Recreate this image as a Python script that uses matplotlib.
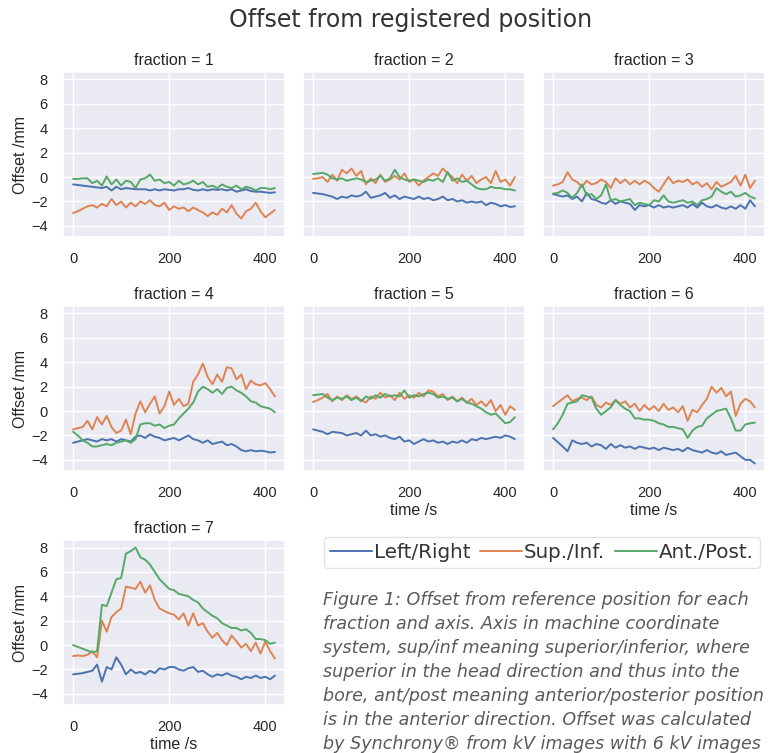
import numpy as np
import matplotlib
matplotlib.use("Agg")
import matplotlib.pyplot as plt
import seaborn as sns

# time axis (s), shared by all fractions
time_s = [0, 10, 20, 30, 40, 50, 60, 70, 80, 90, 100, 110, 120, 130, 140, 150, 160, 170, 180, 190, 200,
          210, 220, 230, 240, 250, 260, 270, 280, 290, 300, 310, 320, 330, 340, 350, 360, 370, 380, 390, 400, 410, 420]

series_names = ["Left/Right", "Sup./Inf.", "Ant./Post."]

# fraction 1
f1_lr = [-0.6, -0.65, -0.7, -0.75, -0.8, -0.85, -0.9, -0.8, -1.1, -0.8, -1.0, -0.9, -0.95, -1.0, -1.0, -1.0, -1.1, -1.0, -1.1, -1.0, -1.05,
         -1.1, -1.0, -1.0, -0.9, -1.05, -1.1, -1.0, -1.1, -1.0, -1.05, -1.0, -1.1, -1.0, -1.2, -1.1, -1.0, -1.15, -1.2, -1.2, -1.25, -1.3, -1.25]
f1_si = [-2.95, -2.8, -2.6, -2.4, -2.3, -2.5, -2.2, -2.4, -1.8, -2.3, -2.0, -2.5, -2.1, -2.4, -2.0, -2.2, -1.9, -2.3, -2.4, -2.1, -2.7,
         -2.4, -2.6, -2.5, -2.8, -2.5, -2.7, -2.9, -3.2, -2.9, -3.1, -2.6, -2.9, -2.3, -3.0, -3.4, -2.8, -2.6, -2.1, -2.8, -3.3, -3.0, -2.7]
f1_ap = [-0.15, -0.15, -0.1, -0.1, -0.5, -0.3, -0.7, 0.05, -0.6, -0.2, -0.7, -0.3, -0.4, -0.9, -0.2, -0.1, 0.2, -0.3, -0.2, -0.5, -0.4,
         -0.7, -0.3, -0.6, -0.5, -0.3, -0.6, -0.4, -0.8, -0.7, -0.9, -0.6, -0.8, -0.9, -0.7, -1.0, -0.8, -0.9, -1.1, -0.9, -0.9, -1.0, -0.9]

# fraction 2
f2_lr = [-1.3, -1.35, -1.4, -1.5, -1.6, -1.8, -1.6, -1.7, -1.5, -1.6, -1.5, -1.2, -1.7, -1.6, -1.5, -1.3, -1.7, -1.5, -1.8, -1.6, -1.7,
         -1.8, -1.6, -1.8, -1.7, -1.9, -1.8, -1.6, -1.9, -1.8, -2.0, -1.9, -2.1, -2.0, -2.1, -2.0, -2.3, -2.1, -2.2, -2.4, -2.3, -2.45, -2.4]
f2_si = [-0.15, -0.1, 0.0, -0.4, 0.2, -0.3, 0.6, 0.3, 0.7, 0.1, 0.5, -0.6, -0.1, -0.5, 0.2, -0.4, -0.2, 0.1, -0.2, 0.3, -0.4,
         -0.2, -0.7, -0.3, 0.0, 0.3, 0.1, 0.7, 0.3, 0.0, -0.5, 0.2, -0.3, 0.1, -0.5, -0.2, 0.0, -0.5, 0.5, -0.4, -0.2, -0.7, 0.0]
f2_ap = [0.25, 0.3, 0.35, 0.2, -0.1, -0.2, -0.1, -0.3, -0.2, -0.1, -0.2, -0.4, -0.3, -0.2, 0.1, -0.3, -0.1, 0.6, 0.0, -0.2, -0.3,
         -0.2, -0.3, -0.4, -0.2, -0.3, -0.1, -0.4, 0.4, -0.3, -0.1, -0.4, -0.3, -0.6, -0.9, -1.0, -1.0, -0.8, -0.9, -0.9, -1.0, -1.0, -1.1]

# fraction 3
f3_lr = [-1.4, -1.5, -1.6, -1.5, -1.8, -1.6, -2.0, -1.3, -1.8, -1.9, -2.1, -2.2, -1.9, -2.2, -2.0, -2.1, -2.2, -2.7, -2.3, -2.4, -2.3,
         -2.5, -2.3, -2.5, -2.4, -2.5, -2.4, -2.3, -2.5, -2.2, -2.5, -2.1, -2.4, -2.5, -2.3, -2.5, -2.6, -2.4, -2.6, -2.3, -2.6, -1.9, -2.4]
f3_si = [-0.7, -0.6, -0.4, 0.4, -0.2, -0.4, -0.8, -0.3, -0.6, -0.5, -0.2, -0.4, -0.9, -0.1, -0.5, -0.2, -0.6, -0.3, -0.6, -0.3, -0.5,
         -0.9, -1.2, -0.6, 0.0, -0.5, -0.3, -0.4, -0.2, -0.6, -0.4, -0.8, -0.5, -1.0, -0.4, -0.8, -0.6, -0.4, 0.1, -0.7, 0.2, -0.9, -0.3]
f3_ap = [-1.35, -1.3, -1.1, -1.3, -1.7, -1.3, -0.6, -1.5, -1.4, -1.8, -1.5, -0.6, -1.9, -1.8, -2.0, -1.9, -1.8, -2.3, -2.1, -2.2, -2.3,
         -1.9, -2.0, -1.5, -2.0, -2.1, -2.0, -1.9, -2.1, -2.0, -2.3, -1.9, -1.8, -1.6, -0.9, -1.2, -1.4, -1.2, -1.6, -1.5, -1.3, -1.6, -1.75]

# fraction 4
f4_lr = [-2.6, -2.5, -2.4, -2.3, -2.4, -2.5, -2.3, -2.4, -2.3, -2.5, -2.3, -2.4, -2.5, -2.1, -2.0, -2.2, -1.9, -2.1, -2.2, -2.4, -2.3,
         -2.2, -2.4, -2.2, -2.0, -2.3, -2.4, -2.6, -2.4, -2.7, -2.6, -2.5, -2.8, -2.7, -2.9, -3.2, -3.3, -3.2, -3.3, -3.25, -3.3, -3.4, -3.35]
f4_si = [-1.5, -1.4, -1.3, -0.8, -1.5, -0.5, -1.1, -0.4, -1.3, -1.8, -1.6, -0.7, -1.9, -0.2, 0.8, -0.1, 0.6, 1.2, -0.2, 0.4, 1.6,
         0.5, 1.0, 0.4, 0.6, 2.4, 3.0, 3.9, 2.8, 2.2, 3.0, 2.4, 3.6, 3.5, 2.6, 3.0, 1.8, 2.5, 2.2, 2.1, 2.3, 1.8, 1.2]
f4_ap = [-1.7, -2.0, -2.4, -2.6, -2.9, -2.9, -2.8, -2.7, -2.8, -2.6, -2.5, -2.4, -2.6, -2.3, -1.1, -1.0, -1.0, -1.2, -1.1, -1.4, -1.2,
         -1.1, -0.6, -0.2, 0.2, 0.7, 1.6, 2.0, 1.8, 1.5, 1.8, 1.4, 1.9, 2.0, 1.7, 1.5, 1.2, 0.8, 0.7, 0.4, 0.3, 0.2, -0.1]

# fraction 5
f5_lr = [-1.5, -1.6, -1.7, -1.9, -1.7, -1.75, -1.8, -2.0, -1.9, -1.8, -2.0, -1.6, -2.0, -1.9, -2.1, -2.0, -2.2, -2.3, -2.1, -2.5, -2.4,
         -2.7, -2.5, -2.3, -2.5, -2.4, -2.6, -2.5, -2.7, -2.5, -2.6, -2.4, -2.6, -2.3, -2.4, -2.2, -2.3, -2.2, -2.1, -2.2, -2.0, -2.1, -2.3]
f5_si = [0.75, 0.9, 1.1, 1.4, 0.8, 1.2, 0.9, 1.3, 1.0, 1.2, 0.9, 0.7, 1.2, 1.0, 1.5, 1.1, 1.3, 0.9, 1.5, 1.0, 1.3,
         1.1, 1.5, 1.2, 1.7, 1.6, 1.2, 1.4, 0.9, 1.2, 0.8, 1.1, 0.7, 1.0, 0.5, 0.8, 0.4, 0.9, 0.0, 0.5, -0.3, 0.4, 0.1]
f5_ap = [1.3, 1.35, 1.4, 1.1, 0.9, 1.1, 1.0, 1.2, 0.9, 1.1, 0.8, 1.2, 1.0, 1.3, 1.1, 1.4, 1.2, 1.3, 1.2, 1.7, 1.1,
         1.3, 1.2, 1.4, 1.5, 1.4, 1.1, 1.2, 1.0, 1.1, 0.8, 1.0, 0.7, 0.6, 0.4, 0.2, -0.1, -0.3, -0.2, -0.6, -1.0, -0.9, -0.5]

# fraction 6
f6_lr = [-2.2, -2.55, -2.9, -3.3, -2.4, -2.6, -2.7, -2.6, -2.9, -2.7, -2.8, -3.1, -2.7, -3.0, -2.8, -3.0, -2.9, -3.1, -2.9, -3.0, -3.1,
         -3.0, -3.2, -3.0, -3.1, -3.2, -3.1, -3.3, -3.0, -3.2, -3.3, -3.4, -3.2, -3.4, -3.5, -3.3, -3.6, -3.5, -3.4, -3.7, -4.0, -4.0, -4.3]
f6_si = [0.4, 0.7, 1.0, 1.3, 0.8, 1.0, 1.1, 0.9, 1.2, 0.5, 0.3, 0.7, 0.5, 0.9, 0.6, 0.8, 0.3, 0.6, 0.0, 0.5, 0.1,
         0.4, 0.0, 0.6, 0.1, 0.3, -0.1, 0.4, -0.8, 0.1, -0.1, 0.5, 1.0, 2.0, 1.5, 1.9, 1.2, 1.6, -0.4, 0.6, 1.0, 0.8, 0.3]
f6_ap = [-1.5, -1.0, -0.3, 0.6, 0.7, 0.8, 1.3, 1.2, 1.1, 0.2, -0.3, 0.0, 0.3, 0.9, 0.5, 0.2, 0.0, -0.6, -0.6, -0.7, -0.7,
         -0.8, -1.0, -1.1, -1.3, -1.3, -1.4, -1.5, -2.2, -1.6, -1.3, -1.2, -0.6, -0.3, 0.0, 0.1, 0.2, -0.6, -1.6, -1.6, -1.1, -1.0, -0.95]

# fraction 7
f7_lr = [-2.4, -2.35, -2.3, -2.2, -2.1, -1.6, -3.0, -1.8, -2.0, -1.0, -1.6, -2.4, -2.0, -2.3, -2.2, -2.4, -2.1, -2.3, -1.9, -2.0, -1.8,
         -1.8, -2.0, -2.1, -1.9, -1.8, -2.2, -2.1, -2.4, -2.6, -2.4, -2.5, -2.3, -2.5, -2.6, -2.8, -2.6, -2.7, -2.5, -2.7, -2.6, -2.8, -2.5]
f7_si = [-0.9, -0.85, -0.9, -0.8, -0.5, -1.0, 2.0, 1.1, 2.3, 2.7, 3.0, 4.8, 4.7, 4.6, 5.2, 4.3, 4.9, 3.7, 3.0, 2.8, 2.6,
         2.5, 2.1, 2.6, 1.6, 2.6, 1.6, 1.8, 1.1, 0.6, 1.0, 0.4, 0.0, 0.8, 0.3, -0.2, 0.1, -0.5, 0.2, -0.7, 0.3, -0.5, -1.1]
f7_ap = [0.0, -0.15, -0.3, -0.45, -0.6, -0.5, 3.3, 3.2, 4.3, 5.4, 5.5, 7.5, 7.7, 8.0, 7.2, 7.0, 6.6, 6.0, 5.4, 5.0, 4.6,
         4.5, 4.2, 4.1, 4.0, 3.7, 3.5, 3.0, 2.7, 2.4, 2.2, 1.8, 1.6, 1.4, 1.4, 1.2, 1.3, 1.0, 0.5, 0.5, 0.4, 0.1, 0.2]

fractions = [
    (f1_lr, f1_si, f1_ap),
    (f2_lr, f2_si, f2_ap),
    (f3_lr, f3_si, f3_ap),
    (f4_lr, f4_si, f4_ap),
    (f5_lr, f5_si, f5_ap),
    (f6_lr, f6_si, f6_ap),
    (f7_lr, f7_si, f7_ap),
]

caption_lines = [
    "Figure 1: Offset from reference position for each",
    "fraction and axis. Axis in machine coordinate",
    "system, sup/inf meaning superior/inferior, where",
    "superior in the head direction and thus into the",
    "bore, ant/post meaning anterior/posterior position",
    "is in the anterior direction. Offset was calculated",
    "by Synchrony\u00ae from kV images with 6 kV images",
]

sns.set_theme(style="darkgrid")
plt.rcParams['font.family'] = ['Liberation Sans', 'DejaVu Sans']
colors = sns.color_palette("deep")[:3]

fig, axes = plt.subplots(3, 3, figsize=(7.7, 7.53), dpi=100, sharey=True)
fig.subplots_adjust(left=0.0818, right=0.9935, top=0.9044, bottom=0.0637,
                    wspace=0.081, hspace=0.418)

handles = []
for i, ax in enumerate(axes.flat):
    if i >= len(fractions):
        ax.set_visible(False)
        continue
    for vals, name, c in zip(fractions[i], series_names, colors):
        ln, = ax.plot(time_s, vals, color=c, linewidth=1.4, label=name)
        if i == 0:
            handles.append(ln)
    ax.set_title(f"fraction = {i + 1}", fontsize=11.5, color='#262626', pad=5)
    ax.set_yticks([-4, -2, 0, 2, 4, 6, 8])
    ax.set_xticks([0, 200, 400])
    ax.tick_params(labelsize=10.5, labelcolor='#262626', pad=5)
    if i % 3 == 0:
        ax.set_ylabel("Offset /mm", fontsize=11.5, color='#262626', labelpad=2)
    if i >= 4:
        ax.set_xlabel("time /s", fontsize=11.5, color='#262626', labelpad=2)

fig.suptitle("Offset from registered position", x=0.533, y=0.973, va='center',
             fontsize=17, color='#333333', family=['DejaVu Sans'])

leg = fig.legend(handles, series_names, loc='center', bbox_to_anchor=(0.704, 0.266),
                 ncol=3, frameon=True, handlelength=2.1, handletextpad=0.1,
                 columnspacing=0.5, borderpad=0.3, fancybox=True,
                 prop={'family': ['DejaVu Sans'], 'size': 14.3})
leg.get_frame().set_edgecolor('#dddddd')
leg.get_frame().set_facecolor('white')
leg.get_frame().set_linewidth(1.0)
for t in leg.get_texts():
    t.set_color('#333333')

# caption kept fully inside the figure
for k, line in enumerate(caption_lines):
    fig.text(0.4195, 1 - (600 + 24 * k) / 753, line, va='center', ha='left',
             fontsize=12.6, style='italic', color='#5a5a5a',
             family=['DejaVu Sans'])

fig.savefig("out.png", dpi=100)
